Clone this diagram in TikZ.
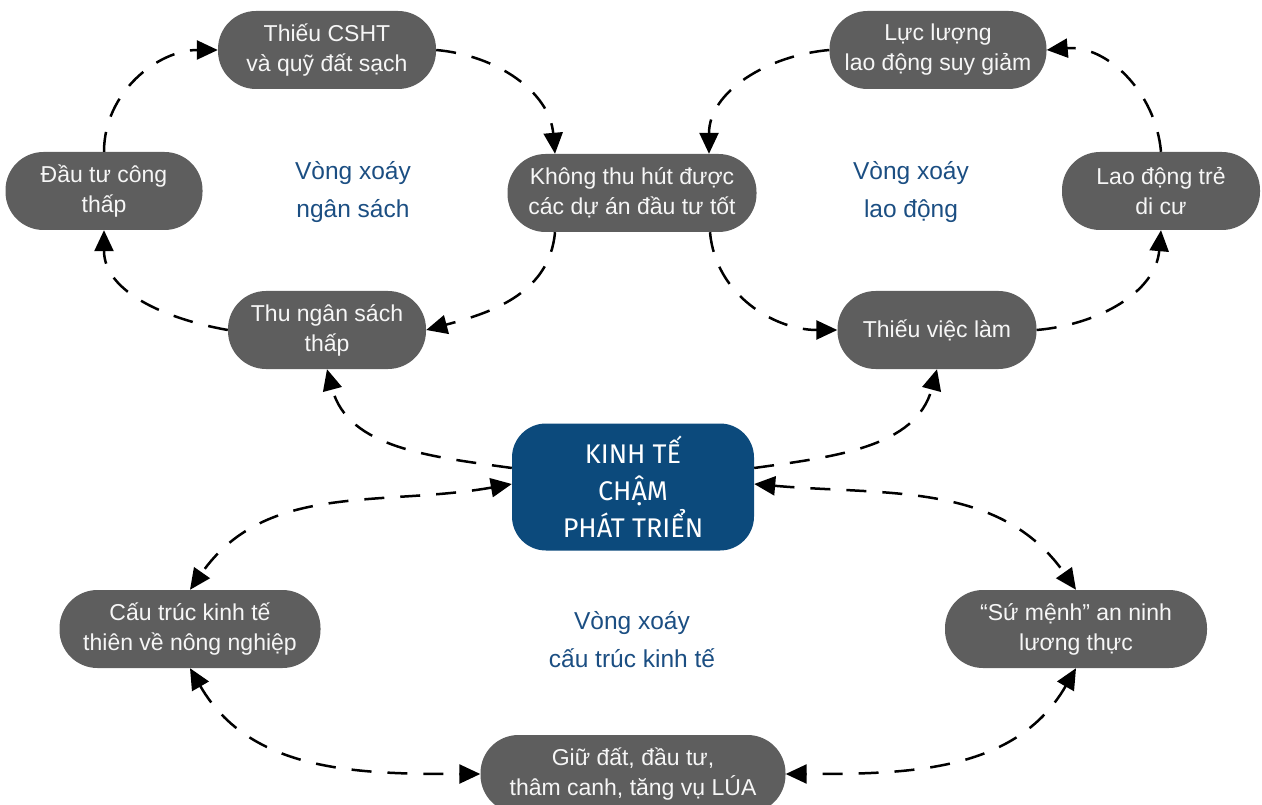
\documentclass[tikz,border=0pt]{standalone}
\usepackage{fontspec}
\setmainfont{Liberation Sans}
\newfontfamily\corefont{Fira Sans}
\usetikzlibrary{arrows.meta}
\definecolor{boxgray}{HTML}{5E5E5E}
\definecolor{coreblue}{HTML}{0C4A7C}
\definecolor{loopblue}{HTML}{1B4E82}
\begin{document}
\begin{tikzpicture}[x=1pt,y=1pt,
  box/.style={fill=boxgray, text=white!93!gray, rounded corners=38pt, minimum height=78pt, inner sep=0pt, align=center, font=\fontsize{23}{30}\selectfont},
  core/.style={fill=coreblue, text=white, rounded corners=34pt, minimum width=242pt, minimum height=127pt, align=center, font=\corefont\fontsize{27}{37}\selectfont},
  loop/.style={text=loopblue, align=center, font=\fontsize{24.5}{38}\selectfont},
  link/.style={draw, line width=2.5pt, dash pattern=on 20pt off 16pt, -{Triangle[length=21pt,width=19pt]}},
  both/.style={link, {Triangle[length=21pt,width=19pt]}-{Triangle[length=21pt,width=19pt]}}]
\useasboundingbox (0,0) rectangle (1262,-805);
\node[box, minimum width=218pt] (1) at (327,-50) {Thiếu CSHT\\và quỹ đất sạch};
\node[box, minimum width=197pt] (2) at (104,-191) {Đầu tư công\\thấp};
\node[box, minimum width=198pt] (3) at (327,-330) {Thu ngân sách\\thấp};
\node[box, minimum width=249pt] (4) at (632,-193) {Không thu hút được\\các dự án đầu tư tốt};
\node[box, minimum width=217pt] (5) at (938,-50) {Lực lượng\\lao động suy giảm};
\node[box, minimum width=198pt] (6) at (1161,-191) {Lao động trẻ\\di cư};
\node[box, minimum width=199pt] (7) at (937,-330) {Thiếu việc làm};
\node[core] (8) at (633,-487) {KINH TẾ\\CHẬM\\PHÁT TRIỂN};
\node[box, minimum width=261pt] (9) at (190,-629) {Cấu trúc kinh tế\\thiên về nông nghiệp};
\node[box, minimum width=262pt] (10) at (1076,-629) {“Sứ mệnh” an ninh\\lương thực};
\node[box, minimum width=305pt] (11) at (633,-774) {Giữ đất, đầu tư,\\thâm canh, tăng vụ LÚA};
\node[loop] (a) at (353,-192) {Vòng xoáy\\ngân sách};
\node[loop] (b) at (911,-192) {Vòng xoáy\\lao động};
\node[loop] (c) at (632,-640) {Vòng xoáy\\cấu trúc kinh tế};
\path[link] (2.north) to[out=90,in=180] (1.west);
\path[link] (1.east) to[out=-5,in=95] ([xshift=-77pt]4.north);
\path[link] ([xshift=-77pt]4.south) to[out=-95,in=15] (3.east);
\path[link] (3.west) to[out=170,in=-90] (2.south);
\path[link] (5.west) to[out=185,in=90] ([xshift=77pt]4.north);
\path[link] ([xshift=78pt]4.south) to[out=-85,in=180] (7.west);
\path[link] (7.east) to[out=5,in=-95] (6.south);
\path[link] (6.north) to[out=95,in=5] (5.east);
\path[link] ([yshift=19pt]8.west) to[out=172,in=-75] (3.south);
\path[link] ([yshift=19pt]8.east) to[out=8,in=-105] (7.south);
\path[both] ([yshift=3pt]8.west) to[out=190,in=55] (9.north);
\path[both] ([yshift=3pt]8.east) to[out=-5,in=125] (10.north);
\path[both] (9.south) to[out=-60,in=180] (11.west);
\path[both] (10.south) to[out=-120,in=0] (11.east);
\end{tikzpicture}
\end{document}
